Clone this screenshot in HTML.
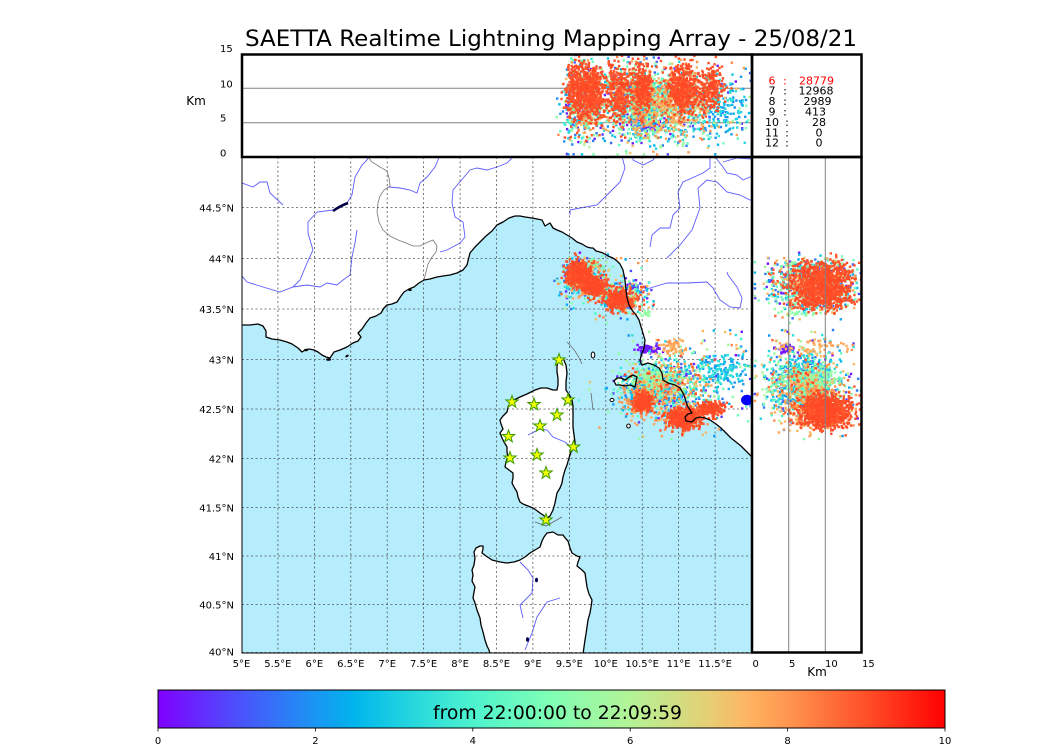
<!DOCTYPE html>
<html><head><meta charset="utf-8">
<style>
html,body{margin:0;padding:0;background:#fff;}
svg{display:block;font-family:"DejaVu Sans","Liberation Sans",sans-serif;}
</style></head><body>
<svg id="s" width="1050" height="750" viewBox="0 0 1050 750">
<defs>
 <clipPath id="cMap"><rect x="242" y="157" width="510" height="496"/></clipPath>
 <clipPath id="cTop"><rect x="242" y="54" width="510" height="103"/></clipPath>
 <clipPath id="cRight"><rect x="752" y="157" width="110" height="496"/></clipPath>
 <linearGradient id="rb" x1="0" x2="1" y1="0" y2="0">
  <stop offset="0" stop-color="rgb(128,0,255)"/>
  <stop offset="0.1" stop-color="rgb(77,79,252)"/>
  <stop offset="0.2" stop-color="rgb(26,150,243)"/>
  <stop offset="0.25" stop-color="rgb(0,180,236)"/>
  <stop offset="0.3" stop-color="rgb(26,206,227)"/>
  <stop offset="0.4" stop-color="rgb(77,243,206)"/>
  <stop offset="0.5" stop-color="rgb(128,255,180)"/>
  <stop offset="0.6" stop-color="rgb(179,243,150)"/>
  <stop offset="0.7" stop-color="rgb(230,206,116)"/>
  <stop offset="0.75" stop-color="rgb(255,180,98)"/>
  <stop offset="0.8" stop-color="rgb(255,150,79)"/>
  <stop offset="0.9" stop-color="rgb(255,79,40)"/>
  <stop offset="1" stop-color="rgb(255,0,0)"/>
 </linearGradient>
 <polygon id="star" points="0,-6.5 1.53,-2.1 6.18,-2.01 2.47,0.8 3.82,5.26 0,2.6 -3.82,5.26 -2.47,0.8 -6.18,-2.01 -1.53,-2.1" fill="#f2ff00" stroke="#3a9a00" stroke-width="1"/>
</defs>
<rect width="1050" height="750" fill="#fff"/>

<text x="551" y="46" font-size="22" text-anchor="middle" textLength="612" lengthAdjust="spacingAndGlyphs" fill="#000">SAETTA Realtime Lightning Mapping Array - 25/08/21</text>

<!-- MAP -->
<g clip-path="url(#cMap)">
 <rect x="242" y="157" width="510" height="496" fill="#b6edfc"/>
 <path id="landFill" fill="#fff"/>
 <path id="corsFill" fill="#fff"/>
 <path id="sardFill" fill="#fff"/>
 <path id="elbaFill" fill="#fff"/>
 <g fill="none" stroke="#5c5cff" stroke-width="0.9">
  <polyline points="242,183 253,187 260,182 267,182 270,193 283,205"/>
  <polyline points="242,276 247,282 263,287 280,292 293,287 307,285 320,287 327,283 337,285 343,280 350,275 352,257 355,243 357,230"/>
  <polyline points="293,287 300,280 307,263 313,250 308,233 308,222 317,212 333,210"/>
  <polyline points="347,203 352,195 355,177 362,165 367,160 369,157"/>
  <polyline points="389,187 400,188 410,190 417,193 420,183 427,177 435,167 438,160 439,157"/>
  <polyline points="513,157 507,163 497,167 487,170 477,168 470,170 453,190 452,203 455,217 463,222 465,237 460,243 447,250 440,252"/>
  <polyline points="570,215 570,210 580,208 597,205 610,192 620,182 625,168 623,160 622,157"/>
  <polyline points="633,157 633,160 643,165 653,160 655,157"/>
  <polyline points="650,247 652,235 660,228 670,228 673,215 680,208 678,192 683,182 703,173 710,168 710,157"/>
  <polyline points="667,258 680,245 692,230 700,208 698,188 707,180 717,182 727,192 740,195 750,200 752,200"/>
  <polyline points="715,157 723,167 727,173 737,175 743,180 750,177 752,176"/>
  <polyline points="723,162 737,158 752,159"/>
  <polyline points="640,292 650,288 667,283 687,283 707,282 713,288 720,300 730,307 740,308 742,298 737,287 728,275 727,272"/>
  <polyline points="528,435 540,429 547,430 553,437 565,442 572,448"/>
  <polyline points="520,562 528,570 533,578 532,593 520,605 523,618"/>
  <polyline points="560,598 547,602 537,617 532,633 525,650"/>
 </g>
 <polyline fill="none" stroke="#777" stroke-width="0.8" points="368,157 372,162 380,167 387,171 389,178 390,186 384,190 380,196 378,203 377,212 379,222 383,230 390,236 398,240 406,243 413,246 420,246 428,242 433,240 437,246 436,252 432,257 428,264 426,272 424,280"/>
 <g fill="none" stroke="#666" stroke-width="0.8">
  <path d="M567,342 Q576,350 582,364"/>
  <path d="M591,393 L593,410"/>
  <path d="M535,522 L546,526 L562,517"/>
 </g>
 <g id="grid" stroke="#3a3a3a" stroke-width="0.8" stroke-dasharray="2,2.5" opacity="0.85"></g>
 <g id="pMap"></g>
 <g fill="none" stroke="#000" stroke-width="1.3" stroke-linejoin="round">
  <path id="landStroke"/>
  <path id="corsStroke"/>
  <path id="sardStroke"/>
  <path id="elbaStroke"/>
 </g>
 <g fill="#fff" stroke="#000" stroke-width="1">
  <ellipse cx="593" cy="355" rx="1.8" ry="3"/>
  <ellipse cx="612" cy="400" rx="2" ry="1.6"/>
  <ellipse cx="628.5" cy="426" rx="1.8" ry="2"/>
 </g>
 <g fill="#000">
  <ellipse cx="306" cy="350" rx="2" ry="1.3"/>
  <ellipse cx="328.5" cy="359.5" rx="2.5" ry="1.3"/>
  <ellipse cx="347" cy="356" rx="1.8" ry="1" transform="rotate(-30 347 356)"/>
  <ellipse cx="410" cy="290" rx="1.8" ry="1"/>
 </g>
 <path d="M333,211 Q340,206 348,203" fill="none" stroke="#00004a" stroke-width="2.6"/>
 <ellipse cx="536.5" cy="580" rx="1.5" ry="2.3" fill="#00004a"/>
 <ellipse cx="527.5" cy="639.5" rx="1.5" ry="2.3" fill="#00004a"/>
 <ellipse cx="747" cy="400" rx="6" ry="5.3" fill="#0000ff"/>
 <g id="stars"></g>
</g>
<rect x="242" y="157" width="510" height="496" fill="none" stroke="#000" stroke-width="1"/>

<!-- TOP PANEL -->
<g clip-path="url(#cTop)">
 <line x1="242" y1="88.3" x2="752" y2="88.3" stroke="#808080" stroke-width="1"/>
 <line x1="242" y1="122.7" x2="752" y2="122.7" stroke="#808080" stroke-width="1"/>
 <g id="pTop"></g>
</g>
<!-- RIGHT PANEL -->
<g clip-path="url(#cRight)">
 <g id="pRight"></g>
 <line x1="788.7" y1="157" x2="788.7" y2="653" stroke="#808080" stroke-width="1"/>
 <line x1="825.3" y1="157" x2="825.3" y2="653" stroke="#808080" stroke-width="1"/>
</g>

<rect x="242" y="54.5" width="510" height="102.5" fill="none" stroke="#000" stroke-width="2.5"/>
<rect x="752" y="54.5" width="109.5" height="102.5" fill="none" stroke="#000" stroke-width="2.5"/>
<rect x="752" y="157" width="109.5" height="495.5" fill="none" stroke="#000" stroke-width="2.5"/>

<!-- legend counts -->
<g font-size="11" fill="#000">
 <g fill="#ff0000"><text x="772" y="84.3" text-anchor="middle">6</text><text x="785" y="84.3" text-anchor="middle">:</text><text x="816.5" y="84.3" text-anchor="middle">28779</text></g>
 <text x="772" y="94.7" text-anchor="middle">7</text><text x="785" y="94.7" text-anchor="middle">:</text><text x="816" y="94.7" text-anchor="middle">12968</text>
 <text x="772" y="105.1" text-anchor="middle">8</text><text x="785" y="105.1" text-anchor="middle">:</text><text x="817.5" y="105.1" text-anchor="middle">2989</text>
 <text x="772" y="115.5" text-anchor="middle">9</text><text x="785" y="115.5" text-anchor="middle">:</text><text x="815.5" y="115.5" text-anchor="middle">413</text>
 <text x="772" y="125.9" text-anchor="middle">10</text><text x="787" y="125.9" text-anchor="middle">:</text><text x="819" y="125.9" text-anchor="middle">28</text>
 <text x="772" y="136.3" text-anchor="middle">11</text><text x="787" y="136.3" text-anchor="middle">:</text><text x="819" y="136.3" text-anchor="middle">0</text>
 <text x="772" y="146.7" text-anchor="middle">12</text><text x="787" y="146.7" text-anchor="middle">:</text><text x="819" y="146.7" text-anchor="middle">0</text>
</g>

<!-- axis labels -->
<g font-size="10" fill="#000">
 <text x="220" y="52">15</text>
 <text x="220" y="87.3">10</text>
 <text x="220" y="121.7">5</text>
 <text x="220" y="156.5">0</text>
 <text x="196" y="105" font-size="12" text-anchor="middle">Km</text>
 <g text-anchor="end">
  <text x="234" y="211.5">44.5°N</text>
  <text x="234" y="262.5">44°N</text>
  <text x="234" y="313">43.5°N</text>
  <text x="234" y="363.5">43°N</text>
  <text x="234" y="413">42.5°N</text>
  <text x="234" y="462.5">42°N</text>
  <text x="234" y="511.5">41.5°N</text>
  <text x="234" y="560">41°N</text>
  <text x="234" y="608.5">40.5°N</text>
  <text x="234" y="655.5">40°N</text>
 </g>
 <g id="lonLabels" text-anchor="middle"></g>
 <text x="752.5" y="667">0</text>
 <text x="789" y="667">5</text>
 <text x="825" y="667">10</text>
 <text x="862" y="667">15</text>
 <text x="817" y="676" font-size="12" text-anchor="middle">Km</text>
</g>

<!-- colorbar -->
<rect x="158" y="690" width="787" height="38" fill="url(#rb)" stroke="#000" stroke-width="1"/>
<text x="557.5" y="719" font-size="19" text-anchor="middle" textLength="249" lengthAdjust="spacingAndGlyphs" fill="#000">from 22:00:00 to 22:09:59</text>
<g stroke="#000" stroke-width="0.8">
 <line x1="158" y1="728" x2="158" y2="731.5"/>
 <line x1="315.4" y1="728" x2="315.4" y2="731.5"/>
 <line x1="472.8" y1="728" x2="472.8" y2="731.5"/>
 <line x1="630.2" y1="728" x2="630.2" y2="731.5"/>
 <line x1="787.6" y1="728" x2="787.6" y2="731.5"/>
 <line x1="945" y1="728" x2="945" y2="731.5"/>
</g>
<g font-size="10" text-anchor="middle" fill="#000">
 <text x="158" y="744">0</text>
 <text x="315.4" y="744">2</text>
 <text x="472.8" y="744">4</text>
 <text x="630.2" y="744">6</text>
 <text x="787.6" y="744">8</text>
 <text x="945" y="744">10</text>
</g>
</svg>
<script>
(function(){
function pts(s){return s.trim().split(/\s+/).join(' L');}
var main="242,325 250,325 258,324 263,326 266,331 266,337 272,339 280,340 287,342 292,344 298,348 302,352 305,350 309,349 314,350 318,352 322,355 326,357 330,358 334,352 340,350 347,347 353,343 358,341 361,337 358,333 362,329 366,323 370,318 376,316 381,313 384,308 387,305 392,304 397,302 401,296 404,292 409,289 414,287 419,283 424,280 430,279 437,277 443,276 450,275 457,273 463,270 467,265 470,253 475,247 480,242 486,236 492,231 497,225 503,222 509,218 515,216 520,216 525,217 532,218 537,219 542,220 545,226 550,223 553,228 557,230 562,232 567,235 572,238 577,242 582,244 587,247 591,248 593,248 596,251 600,252 603,253 608,256 613,258 617,261 620,264 623,270 625,280 626,290 627,298 629,305 632,310 636,315 639,320 642,330 645,340 644,348 641,356 640,361 642,365 648,363 654,365 659,368 662,373 663,380 668,383 675,385 680,388 683,393 685,398 687,405 690,410 692,413 688,414 685,417 686,421 692,422 696,418 700,417 705,418 710,420 716,424 721,428 726,433 731,438 736,442 741,446 745,450 749,454 752,457";
var cors="559,359 563,358 566,365 567,373 566,382 566,390 570,396 572,400 573,406 573,413 573,420 573,427 574,435 575,442 575,447 571,452 569,458 567,465 565,470 563,477 562,483 560,488 557,493 556,498 555,503 553,510 550,516 547,518 543,515 540,513 536,510 533,508 528,506 523,504 520,502 518,497 517,492 514,487 512,483 513,478 513,473 509,470 505,467 506,462 508,457 507,452 507,447 504,442 502,438 500,433 503,429 501,424 500,420 503,416 507,412 508,407 510,403 514,400 520,397 527,394 535,390 541,388 547,388 553,390 557,390 558,385 558,378 557,372 557,366 558,362";
var sard="547,533 553,532 558,535 563,535 566,539 568,541 570,548 572,553 577,556 580,557 578,562 577,566 582,570 585,573 586,580 587,587 589,594 592,600 591,607 590,613 588,620 587,627 586,634 585,640 584,647 583,654 490,654 489,650 487,646 485,640 483,632 481,625 480,618 477,610 475,603 473,598 474,592 475,587 472,581 473,575 472,570 474,565 475,558 474,552 476,548 480,546 483,546 483,549 482,553 486,556 492,560 500,562 507,563 514,562 520,560 525,557 530,553 535,550 540,547 542,541 544,537";
var elba="614,381 617,378 621,378 625,380 629,377 633,375 637,377 636,382 635,387 630,385 625,386 620,385 616,385";
function set(id,d){document.getElementById(id).setAttribute('d',d);}
set('landFill','M242,157 L'+pts(main)+' L752,157 Z');
set('landStroke','M'+pts(main));
set('corsFill','M'+pts(cors)+'Z');set('corsStroke','M'+pts(cors)+'Z');
set('sardFill','M'+pts(sard)+'Z');set('sardStroke','M'+pts(sard)+'Z');
set('elbaFill','M'+pts(elba)+'Z');set('elbaStroke','M'+pts(elba)+'Z');

var g='';
function lx(l){return 241.5+(l-5)*72.857;}
var latY=[604.5,556,507.5,458.5,409,359.5,309,258.5,207.5];
for(var i=1;i<14;i++){var x=lx(5+i*0.5).toFixed(1);g+='<line x1="'+x+'" y1="157" x2="'+x+'" y2="653"/>';}
latY.forEach(function(y){g+='<line x1="242" y1="'+y+'" x2="752" y2="'+y+'"/>';});
g+='<line x1="242" y1="652.5" x2="752" y2="652.5"/>';
document.getElementById('grid').innerHTML=g;
var ll='';
for(var i=0;i<14;i++){var l=5+i*0.5;ll+='<text x="'+lx(l).toFixed(1)+'" y="667">'+l+'°E</text>';}
document.getElementById('lonLabels').innerHTML=ll;

var st=[[559,360],[512,402],[534,404.5],[568,400],[557,415],[540,426],[508.5,436.5],[573.5,447],[537,455],[510,458],[546,473],[546,520]];
var ss='';st.forEach(function(p){ss+='<use href="#star" x="'+p[0]+'" y="'+p[1]+'"/>';});
document.getElementById('stars').innerHTML=ss;

var s=20210825;
function R(){s|=0;s=s+0x6D2B79F5|0;var t=Math.imul(s^s>>>15,1|s);t=t+Math.imul(t^t>>>7,61|t)^t;return((t^t>>>14)>>>0)/4294967296;}
function G(){var u=1-R(),v=R();return Math.sqrt(-2*Math.log(u))*Math.cos(2*Math.PI*v);}
var MIX=[[0,.1,1],[.12,.25,2],[.25,.38,2.5],[.42,.6,3],[.7,.82,2],[.86,.91,.6]],MW=0;
MIX.forEach(function(m){MW+=m[2];});
function tm(){var r=R()*MW;for(var i=0;i<MIX.length;i++){r-=MIX[i][2];if(r<=0)return MIX[i][0]+R()*(MIX[i][1]-MIX[i][0]);}return .5;}
var RED=[.885,.905];
var C=[
 [585,279,11,10,350,null,8,3.2],
 [579,274,7,6,400,RED,9.5,2.2],
 [594,287,6,5,280,RED,9.5,2.2],
 [590,285,8,6,100,[.72,.82],8.5,2.5],
 [574,266,6,3,25,[0,.12],7,3],
 [585,266,10,3,40,[.45,.6],8,3],
 [622,296,12,9,260,null,8,3],
 [620,300,8,5,320,RED,9.3,2],
 [630,288,8,4,30,[0,.12],7,3],
 [646,313,2.5,2,20,[.5,.56],6,1.5],
 [668,385,22,14,800,null,7.5,2.5],
 [722,372,14,8,150,[.18,.36],7,2.2],
 [649,349,7,2,60,[0,.05],4.6,.6],
 [672,348,8,4,60,[.73,.8],8,2.5],
 [641,400,9,9,140,[.74,.82],8,2.5],
 [643,403,4.5,4.5,280,RED,10,1.8],
 [683,415,12,8,120,[.72,.82],8.5,2.5],
 [683,418,8,5,450,RED,10,1.8],
 [712,409,6,3.5,220,RED,10,1.8],
 [640,395,8,8,150,[.15,.3],7,2.5],
 [650,380,10,6,150,[.45,.6],7.5,2.5]
];
var P=[];
C.forEach(function(c){for(var i=0;i<c[4];i++){var t=c[5]?c[5][0]+R()*(c[5][1]-c[5][0]):tm();P.push([c[0]+G()*c[2],c[1]+G()*c[3],Math.max(.4,c[6]+G()*c[7]),t]);}});
for(var i=0;i<110;i++)P.push([628+R()*124,330+R()*110,2+R()*12,tm()]);
for(var i=0;i<50;i++)P.push([565+R()*85,255+R()*65,2+R()*12,tm()]);
var NB=60,bins=[];for(var b=0;b<NB;b++)bins.push(['','','']);
var S=2.4,h=S/2;
function sq(x,y){return 'M'+(x-h).toFixed(1)+' '+(y-h).toFixed(1)+'h'+S+'v'+S+'h-'+S+'z';}
P.forEach(function(p){var b=Math.min(NB-1,Math.floor(p[3]*NB));
 bins[b][0]+=sq(p[0],p[1]);
 bins[b][1]+=sq(p[0],157-p[2]*103/15);
 bins[b][2]+=sq(752+p[2]*110/15,p[1]);
});
function rb(t){var r=Math.min(1,Math.abs(2*t-.5)),gg=Math.sin(Math.PI*t),bb=Math.cos(Math.PI*t/2);
 return 'rgb('+Math.round(r*255)+','+Math.round(gg*255)+','+Math.round(Math.max(0,bb)*255)+')';}
var out=['','',''];
for(var b=0;b<NB;b++){var col=rb((b+.5)/NB);for(var k=0;k<3;k++){if(bins[b][k])out[k]+='<path fill="'+col+'" d="'+bins[b][k]+'"/>';}}
document.getElementById('pMap').innerHTML=out[0];
document.getElementById('pTop').innerHTML=out[1];
document.getElementById('pRight').innerHTML=out[2];
})();
</script>
</body></html>
